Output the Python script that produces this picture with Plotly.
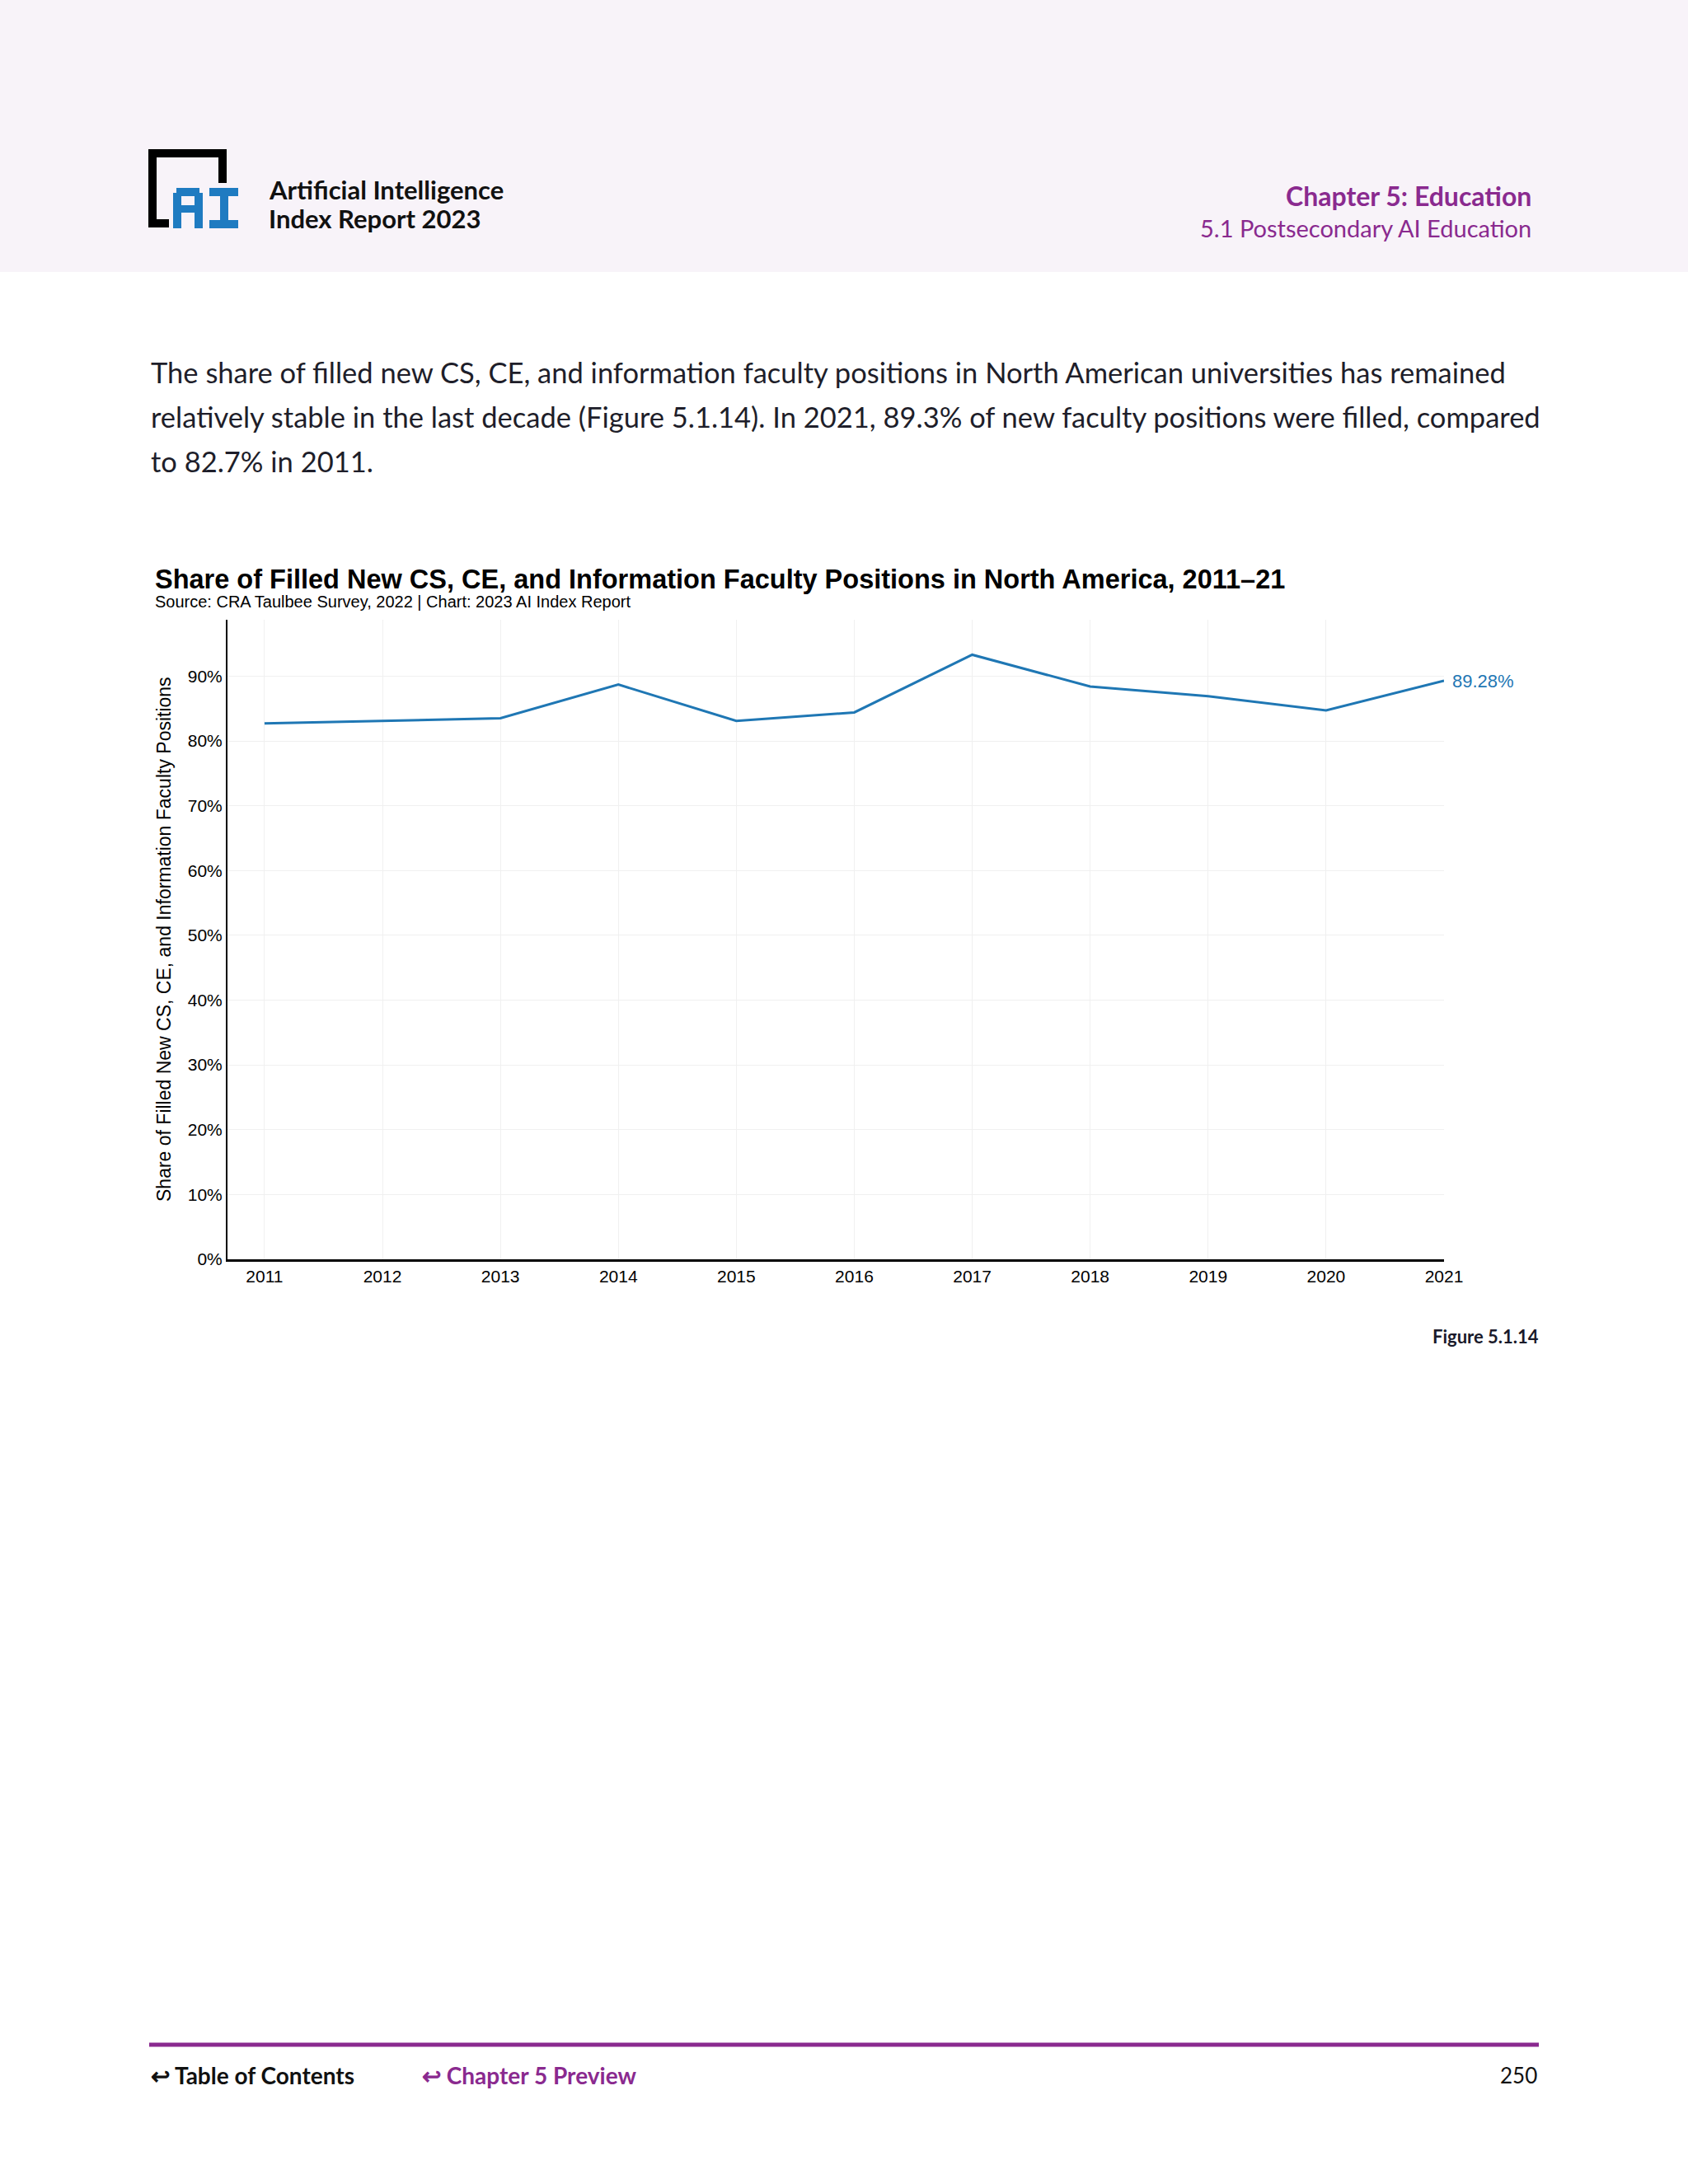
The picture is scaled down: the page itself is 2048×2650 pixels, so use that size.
import plotly.graph_objects as go

# ---- data ----
years = [2011, 2012, 2013, 2014, 2015, 2016, 2017, 2018, 2019, 2020, 2021]
share_filled = [82.7, 83.1, 83.5, 88.7, 83.1, 84.4, 93.3, 88.4, 86.9, 84.7, 89.28]
y_ticks = [0, 10, 20, 30, 40, 50, 60, 70, 80, 90]
y_tick_labels = ["0%", "10%", "20%", "30%", "40%", "50%", "60%", "70%", "80%", "90%"]
x_tick_labels = [str(y) for y in years]

W, H = 2048, 2650
L, R, T, B = 276, 1752, 752, 1528

def px(x):
    return (x - L) / (R - L)

def py(y):
    return (B - y) / (B - T)

PURPLE = "#8A2A8F"
BLUE = "#1F77B4"
TEXT = "#1E1E2A"

fig = go.Figure()
fig.add_trace(go.Scatter(
    x=years, y=share_filled, mode="lines",
    line=dict(color=BLUE, width=3), hoverinfo="x+y", showlegend=False,
))

shapes = []
# header band
shapes.append(dict(type="rect", xref="paper", yref="paper", x0=px(0), x1=px(W), y0=py(0), y1=py(330),
                   fillcolor="#F8F3F9", line=dict(width=0), layer="below"))
# logo bracket
shapes.append(dict(type="path", xref="paper", yref="paper",
                   path=f"M {px(270)},{py(222)} L {px(270)},{py(186)} L {px(185)},{py(186)} L {px(185)},{py(271)} L {px(205)},{py(271)}",
                   line=dict(color="black", width=10)))
LOGO_BLUE = "#1F7BC1"
def rect(x0, x1, y0, y1, color):
    return dict(type="rect", xref="paper", yref="paper", x0=px(x0), x1=px(x1), y0=py(y0), y1=py(y1),
                fillcolor=color, line=dict(width=0))
# A
shapes += [rect(210, 220, 234, 277, LOGO_BLUE), rect(236, 246, 234, 277, LOGO_BLUE),
           rect(214, 242, 228, 238, LOGO_BLUE), rect(210, 246, 249, 258, LOGO_BLUE)]
# I
shapes += [rect(254, 289, 228, 238, LOGO_BLUE), rect(267, 277, 228, 277, LOGO_BLUE),
           rect(254, 289, 267, 277, LOGO_BLUE)]
# footer line
shapes.append(dict(type="line", xref="paper", yref="paper", x0=px(181), x1=px(1867), y0=py(2481), y1=py(2481),
                   line=dict(color=PURPLE, width=5)))

ann = []
def text(x, y, s, size, color=TEXT, family="Lato", xanchor="left", bold=False, angle=0):
    ann.append(dict(xref="paper", yref="paper", x=px(x), y=py(y), text=(f"<b>{s}</b>" if bold else s),
                    showarrow=False, xanchor=xanchor, yanchor="middle", textangle=angle,
                    font=dict(size=size, color=color, family=family)))

text(324, 230, "Artificial Intelligence", 31, color="#111111", bold=True)
text(324, 265, "Index Report 2023", 31, color="#111111", bold=True)
text(1860, 238, "Chapter 5: Education", 32, color=PURPLE, xanchor="right", bold=True)
text(1860, 277, "5.1 Postsecondary AI Education", 29, color=PURPLE, xanchor="right")

text(181, 451, "The share of filled new CS, CE, and information faculty positions in North American universities has remained", 34.5)
text(181, 505, "relatively stable in the last decade (Figure 5.1.14). In 2021, 89.3% of new faculty positions were filled, compared", 34.5)
text(181, 559, "to 82.7% in 2011.", 34.5)

text(186, 703, "Share of Filled New CS, CE, and Information Faculty Positions in North America, 2011–21", 32.5,
     color="#000000", family="Liberation Sans", bold=True)
text(186, 730, "Source: CRA Taulbee Survey, 2022 | Chart: 2023 AI Index Report", 20, color="#000000", family="Liberation Sans")
text(199, 1140, "Share of Filled New CS, CE, and Information Faculty Positions", 23, color="#000000",
     family="Liberation Sans", xanchor="center", angle=-90)

# end label
ann.append(dict(x=years[-1], y=share_filled[-1], xref="x", yref="y", text=f"{share_filled[-1]:.2f}%",
                showarrow=False, xanchor="left", yanchor="middle", xshift=8,
                font=dict(size=22, color=BLUE, family="Liberation Sans")))

text(1869, 1621, "Figure 5.1.14", 22, color="#1a1a2a", xanchor="right", bold=True)
text(181, 2518, "↩ Table of Contents", 28, color="#111111", bold=True)
text(510, 2518, "↩ Chapter 5 Preview", 28, color=PURPLE, bold=True)
text(1867, 2518, "250", 26, color="#111111", xanchor="right")

fig.update_layout(
    width=W, height=H,
    margin=dict(l=L, r=W - R, t=T, b=H - B, pad=0),
    paper_bgcolor="white", plot_bgcolor="white",
    shapes=shapes, annotations=ann,
    showlegend=False,
    xaxis=dict(range=[2010.686, 2021], tickvals=years, ticktext=x_tick_labels,
               showgrid=True, gridcolor="#F0F0F0", gridwidth=1,
               showline=True, linecolor="black", linewidth=3, zeroline=False, ticks="",
               tickfont=dict(size=21, color="#000000", family="Liberation Sans")),
    yaxis=dict(range=[0, 98.7], tickvals=y_ticks, ticktext=y_tick_labels,
               showgrid=True, gridcolor="#F0F0F0", gridwidth=1,
               showline=True, linecolor="black", linewidth=2,
               zeroline=False, ticks="",
               tickfont=dict(size=21, color="#000000", family="Liberation Sans")),
)

fig.write_html("out.html", config={"displayModeBar": False},
               post_script="document.body.style.margin='0';")
